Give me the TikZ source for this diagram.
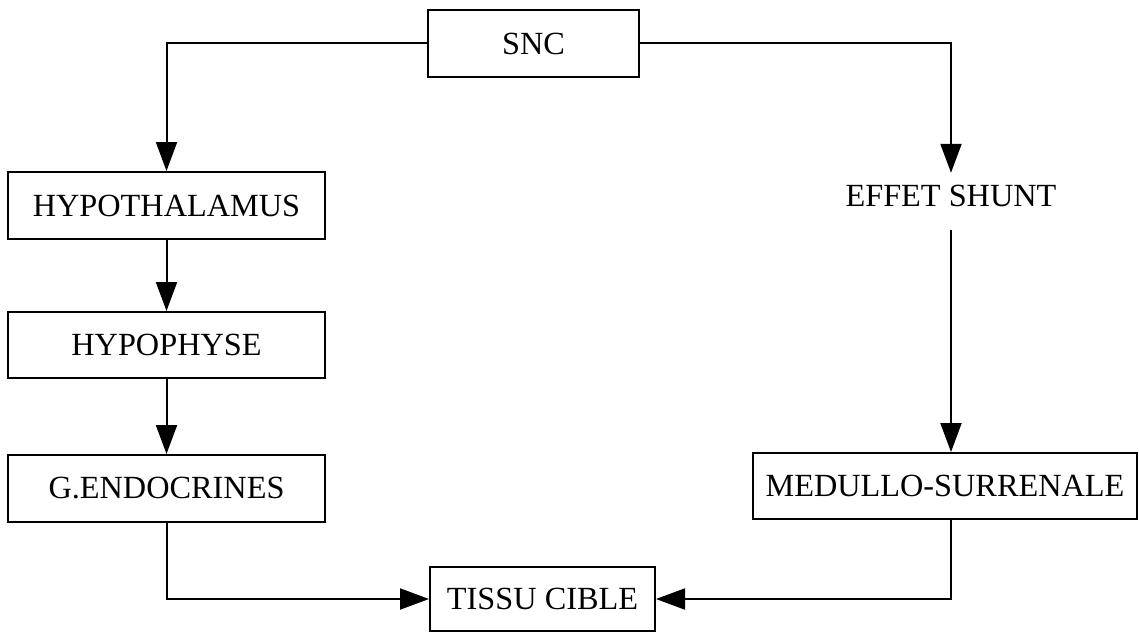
\documentclass[tikz,border=0pt]{standalone}
\usepackage{fontspec}
\setmainfont{Liberation Serif}
\usetikzlibrary{arrows.meta}
\begin{document}
\begin{tikzpicture}[x=1pt,y=-1pt,
  box/.style={draw, line width=2pt, rectangle, inner sep=0pt, minimum height=67pt},
  arr/.style={line width=2pt, -{Triangle[length=29pt,width=21pt]}},
  every node/.style={font=\fontsize{32.3}{36}\selectfont}]
\useasboundingbox (0,0) rectangle (1139,634);
\node[box, minimum width=211pt] (snc) at (533.5,43.5) {SNC};
\node[box, minimum width=317pt] (hypo) at (166.5,205.5) {HYPOTHALAMUS};
\node[box, minimum width=317pt, minimum height=66pt] (hypoph) at (166.5,345) {HYPOPHYSE};
\node[box, minimum width=317pt] (gend) at (166.5,488.5) {G.ENDOCRINES};
\node[box, minimum width=225pt, minimum height=64pt] (tissu) at (542.5,599) {TISSU CIBLE};
\node[box, minimum width=384pt, minimum height=66pt] (med) at (945,486) {MEDULLO-SURRENALE};
\node[inner sep=0pt, minimum height=57pt, text height=20pt, text depth=11pt] (shunt) at (951,201.5) {EFFET SHUNT};
\draw[arr] (snc.west) -| (hypo.north);
\draw[arr] (snc.east) -| (shunt.north);
\draw[arr] (hypo) -- (hypoph);
\draw[arr] (hypoph) -- (gend);
\draw[arr] (shunt.south) -- (shunt |- med.north);
\draw[arr] (gend.south) |- (tissu.west);
\draw[arr] (shunt |- med.south) |- (tissu.east);
\end{tikzpicture}
\end{document}
